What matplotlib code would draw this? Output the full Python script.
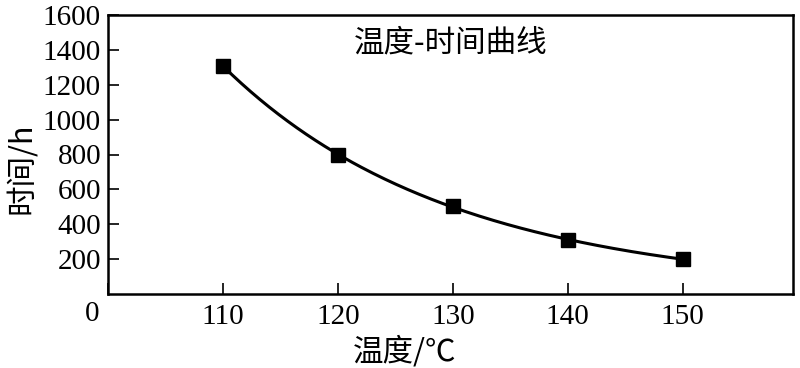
import numpy as np
import matplotlib
matplotlib.use('Agg')
import matplotlib.pyplot as plt

plt.rcParams['font.family'] = ['Liberation Serif', 'Noto Sans CJK SC', 'DejaVu Sans']

temps = [110, 120, 130, 140, 150]
hours = [1310, 795, 505, 310, 200]
x_ticks = [100, 110, 120, 130, 140, 150]
x_labels = ['', '110', '120', '130', '140', '150']
y_ticks = [200, 400, 600, 800, 1000, 1200, 1400, 1600]

fig = plt.figure(figsize=(8, 3.68), dpi=100)
ax = fig.add_axes([108 / 800, 1 - 294 / 368, (793 - 108) / 800, (294 - 15) / 368])

# smooth trend through the points (quadratic fit on log of time)
coef = np.polyfit(temps, np.log(hours), 2)
xs = np.linspace(temps[0], temps[-1], 200)
ax.plot(xs, np.exp(np.polyval(coef, xs)), color='black', lw=2.2)
ax.plot(temps, hours, 's', color='black', ms=10)

ax.set_xlim(100, 159.6)
ax.set_ylim(0, 1600)
ax.set_xticks(x_ticks)
ax.set_xticklabels(x_labels)
ax.set_yticks(y_ticks)
ax.tick_params(direction='in', length=8, width=1.2, labelsize=21, pad=5)
ax.tick_params(axis='x', pad=7)
for s in ax.spines.values():
    s.set_linewidth(1.8)

ax.text(-0.023, -0.025, '0', transform=ax.transAxes, fontsize=21, ha='center', va='top')
ax.text(0.5, 0.9, '温度-时间曲线', transform=ax.transAxes, fontsize=22, ha='center', va='center',
        family=['Noto Sans CJK SC', 'DejaVu Sans'])
fig.text(405 / 800, 1 - 352 / 368, '温度/℃', fontsize=22, ha='center', va='center',
         family=['Noto Sans CJK SC', 'DejaVu Sans'])
fig.text(22 / 800, 1 - 168 / 368, '时间/h', fontsize=22, ha='center', va='center', rotation=90,
         family=['Noto Sans CJK SC', 'DejaVu Sans'])

fig.savefig('out.png', dpi=100)
